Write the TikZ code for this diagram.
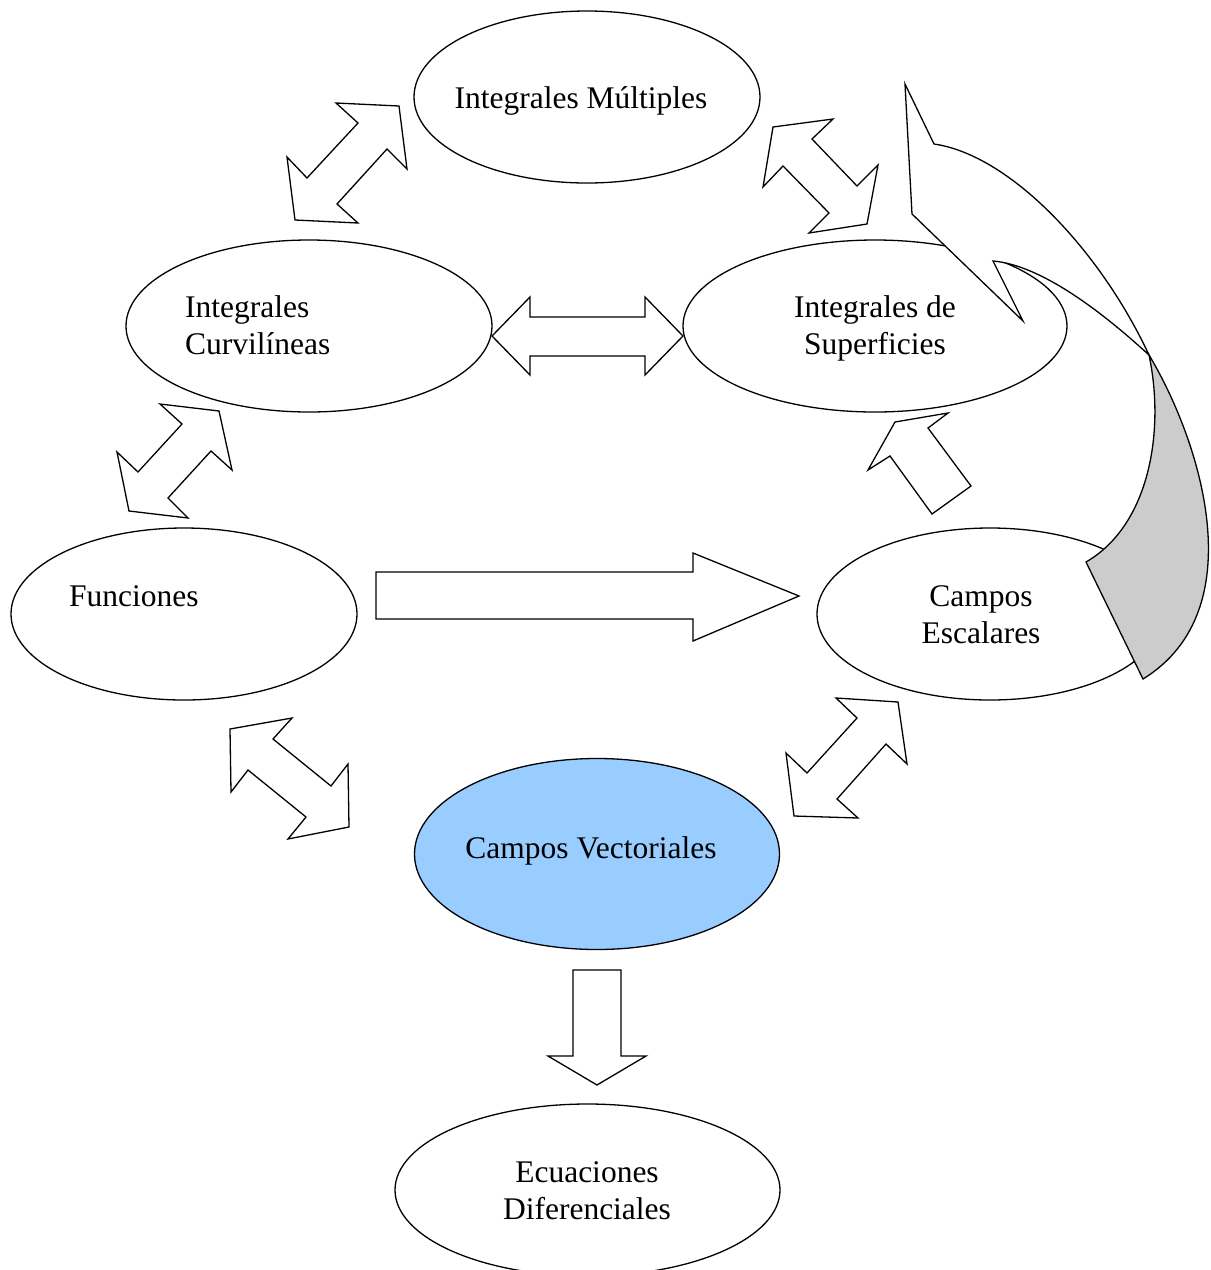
\documentclass[tikz,border=0pt]{standalone}
\usepackage{fontspec}
\setmainfont{Liberation Serif}
\usetikzlibrary{shapes.geometric}
\definecolor{vecblue}{HTML}{99CCFF}
\definecolor{backgray}{HTML}{CCCCCC}
\begin{document}
\begin{tikzpicture}[x=1pt,y=-1pt,
  oval/.style={ellipse, draw, line width=1.3pt, inner sep=0pt, fill=white},
  lbl/.style={anchor=base, font=\fontsize{31.5}{37}\selectfont, inner sep=0pt},
  lblw/.style={lbl, anchor=base west},
  blk/.style={draw, line width=1.3pt, fill=white, line join=miter}]
\useasboundingbox (0,0) rectangle (1211,1270);
\clip (0,0) rectangle (1211,1270);

% ellipses
\node[oval, minimum width=346pt, minimum height=172pt] (mult) at (587,97) {};
\node[oval, minimum width=366pt, minimum height=172pt] (curv) at (309,326) {};
\node[oval, minimum width=384pt, minimum height=172pt] (sup) at (875,326) {};
\node[oval, minimum width=346pt, minimum height=172pt] (fun) at (184,614) {};
\node[oval, minimum width=346pt, minimum height=172pt] (esc) at (990,614) {};
\node[oval, fill=vecblue, minimum width=365pt, minimum height=191pt] (vec) at (597,854) {};
\node[oval, minimum width=385pt, minimum height=172pt] (ecu) at (587.5,1190) {};

% labels
\node[lbl] (tmult) at (581,108) {Integrales Múltiples};
\node[lblw] (tcurv1) at (185,317) {Integrales};
\node[lblw] (tcurv2) at (185,354) {Curvilíneas};
\node[lbl] (tsup1) at (875,317) {Integrales de};
\node[lbl] (tsup2) at (875,354) {Superficies};
\node[lblw] (tfun) at (69,606) {Funciones};
\node[lbl] (tesc1) at (981,606) {Campos};
\node[lbl] (tesc2) at (981,643) {Escalares};
\node[lbl] (tvec) at (591,858) {Campos Vectoriales};
\node[lbl] (tecu1) at (587,1182) {Ecuaciones};
\node[lbl] (tecu2) at (587,1219) {Diferenciales};

% double arrow: Multiples <-> Curvilineas
\draw[blk] (336,103) -- (399,106) -- (407,169) -- (387,149) -- (337,204) -- (358,223)
  -- (295,220) -- (287,157) -- (307,178) -- (358,123) -- cycle;
% double arrow: Multiples <-> Superficies
\draw[blk] (773,127) -- (833,119) -- (812,139) -- (857,186) -- (878,165) -- (867,224)
  -- (809,233) -- (829,213) -- (783,166) -- (763,187) -- cycle;
% double arrow: Curvilineas <-> Superficies
\draw[blk] (492,336) -- (530,297) -- (530,317) -- (645,317) -- (645,297) -- (683,336)
  -- (645,375) -- (645,356) -- (530,356) -- (530,375) -- cycle;
% double arrow: Curvilineas <-> Funciones
\draw[blk] (160,404) -- (219,411) -- (232,470) -- (211,451) -- (168,498) -- (188,518)
  -- (129,511) -- (117,452) -- (138,472) -- (182,424) -- cycle;
% arrow: Escalares -> Superficies
\draw[blk] (948,413) -- (928,428) -- (971,486) -- (932,514) -- (890,456) -- (868,470)
  -- (895,422) -- cycle;
% arrow: Funciones -> Escalares
\draw[blk] (376,572) -- (693,572) -- (693,553) -- (799,596) -- (693,641) -- (693,619)
  -- (376,619) -- cycle;
% double arrow: Funciones <-> Vectoriales
\draw[blk] (230,729) -- (292,718) -- (273,739) -- (331,786) -- (348,764) -- (349,827)
  -- (288,839) -- (306,817) -- (248,770) -- (231,792) -- cycle;
% double arrow: Escalares <-> Vectoriales
\draw[blk] (836,698) -- (898,702) -- (907,764) -- (886,744) -- (837,799) -- (858,818)
  -- (794,816) -- (786,753) -- (807,773) -- (857,718) -- cycle;
% arrow: Vectoriales -> Ecuaciones
\draw[blk] (573,970) -- (621,970) -- (621,1056) -- (646,1056) -- (597,1085) -- (548,1056)
  -- (573,1056) -- cycle;

% curved arrow: back (gray) part
\draw[blk, fill=backgray] (1149,355) .. controls (1165,430) and (1150,525) .. (1086,562)
  -- (1143,679) .. controls (1255,610) and (1200,440) .. (1149,355) -- cycle;
% curved arrow: front (white) part with head
\draw[blk] (905,84) -- (934,144) .. controls (1010,155) and (1100,250) .. (1149,355)
  .. controls (1100,310) and (1040,265) .. (993,261) -- (1023,321) -- (912,214) -- cycle;
\end{tikzpicture}
\end{document}
